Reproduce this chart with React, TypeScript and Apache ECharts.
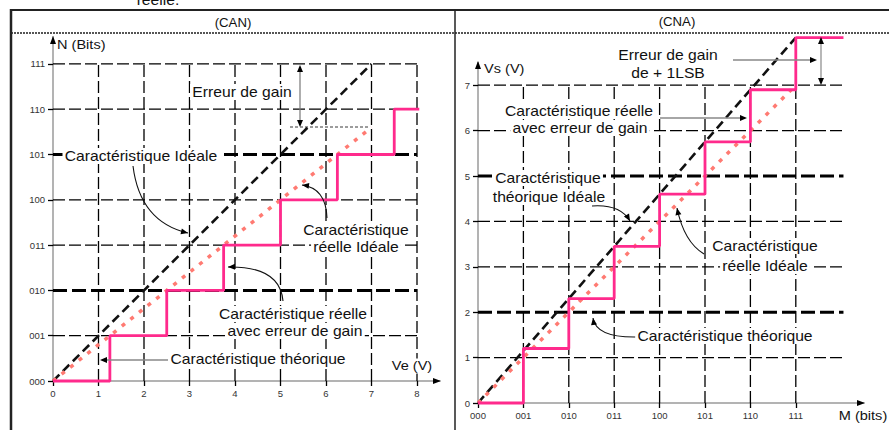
import React, { useEffect, useRef } from "react";
import * as echarts from "echarts";

// ---------- data ----------
const canCodes = ["000", "001", "010", "011", "100", "101", "110", "111"];
const canVeTicks = [0, 1, 2, 3, 4, 5, 6, 7, 8];
const canNTicks = [0, 1, 2, 3, 4, 5, 6, 7];
const canStepVe = [0, 1.25, 2.5, 3.75, 5, 6.25, 7.5, 8.05];
const canStepN = [0, 1, 2, 3, 4, 5, 6, 6];
const canIdealVe = [0, 7];
const canIdealN = [0, 7];
const canGainVe = [0, 7];
const canGainN = [0, 5.6];
const canGridLevels = [1, 2, 3, 4, 5, 6, 7];
const canGridVe = [1, 2, 3, 4, 5, 6, 7, 8];
const canHeavy = [2, 5];

const cnaCodes = ["000", "001", "010", "011", "100", "101", "110", "111"];
const cnaMTicks = [0, 1, 2, 3, 4, 5, 6, 7];
const cnaVsTicks = [0, 1, 2, 3, 4, 5, 6, 7];
const cnaStepM = [0, 1, 2, 3, 4, 5, 6, 7, 8.05];
const cnaStepVs = [0, 1.2, 2.3, 3.45, 4.6, 5.75, 6.9, 8.05, 8.05];
const cnaIdealM = [0, 7];
const cnaIdealVs = [0, 8.05];
const cnaRealM = [0, 6.9];
const cnaRealVs = [0, 6.9];
const cnaGridLevels = [1, 2, 3, 4, 5, 6, 7];
const cnaGridM = [1, 2, 3, 4, 5, 6, 7];
const cnaHeavy = [2, 5];
const cnaGridEnd = 8.05;

const PINK = "#ff2a8c";
const SALMON = "#ff7a72";
const FONT = "Liberation Sans, Arial, sans-serif";

const zip = (a: number[], b: number[]) => a.map((v, i) => [v, b[i]]);

function gridSeries(gi: number, levels: number[], heavy: number[], xs: number[], xEnd: number, yEnd: number) {
  const s: any[] = [];
  levels.forEach((l) => {
    const h = heavy.includes(l);
    s.push({
      type: "line", xAxisIndex: gi, yAxisIndex: gi, silent: true, symbol: "none", clip: false, z: 1,
      data: [[0, l], [xEnd, l]],
      lineStyle: { color: "#000", width: h ? 3 : 1.3, type: h ? [14, 5] : [12, 4] },
    });
  });
  xs.forEach((x) => {
    s.push({
      type: "line", xAxisIndex: gi, yAxisIndex: gi, silent: true, symbol: "none", clip: false, z: 1,
      data: [[x, 0], [x, yEnd]],
      lineStyle: { color: "#000", width: 1.3, type: [12, 4] },
    });
  });
  return s;
}

// ---------- annotation helpers ----------
function head(tx: number, ty: number, fx: number, fy: number, size = 7, w = 3, color = "#000") {
  const dx = tx - fx, dy = ty - fy;
  const d = Math.hypot(dx, dy) || 1;
  const ux = dx / d, uy = dy / d;
  const bx = tx - ux * size, by = ty - uy * size;
  return {
    type: "polygon", z: 101, silent: true,
    shape: { points: [[tx, ty], [bx - uy * w, by + ux * w], [bx + uy * w, by - ux * w]] },
    style: { fill: color },
  };
}
function line(x1: number, y1: number, x2: number, y2: number, color = "#000", width = 1, dash?: number[]) {
  return {
    type: "line", z: 100, silent: true,
    shape: { x1, y1, x2, y2 },
    style: { stroke: color, lineWidth: width, lineDash: dash },
  };
}
function curve(x1: number, y1: number, cx: number, cy: number, x2: number, y2: number) {
  return [
    {
      type: "bezierCurve", z: 100, silent: true,
      shape: { x1, y1, x2, y2, cpx1: cx, cpy1: cy },
      style: { stroke: "#111", lineWidth: 1.1, fill: "none" },
    },
    head(x2, y2, cx, cy),
  ];
}
function label(text: string, x: number, y: number, opts: any = {}) {
  return {
    type: "text", z: 102, silent: true, x, y,
    scaleX: opts.scaleX ?? 1.12,
    style: {
      text, fontSize: opts.fontSize ?? 14, fontFamily: FONT, fill: "#111",
      align: opts.align ?? "center", verticalAlign: "middle",
      backgroundColor: opts.bg === false ? undefined : "#fff",
      padding: opts.bg === false ? 0 : [1, 2],
    },
  };
}

export default function App() {
  const ref = useRef<HTMLDivElement>(null);
  useEffect(() => {
    if (!ref.current) return;
    const chart = echarts.init(ref.current, null, { renderer: "svg" });

    const axisCommon = {
      type: "value",
      splitLine: { show: false },
      axisLine: { show: true, lineStyle: { color: "#9a9a9a", width: 1.5 } },
      axisTick: { show: true, length: 5, lineStyle: { color: "#000", width: 1.3 } },
    };
    const labelStyle = { fontSize: 9.5, color: "#333", fontFamily: FONT };

    const graphics: any[] = [
      // frame
      line(11, 10, 889, 10, "#222", 2),
      line(11, 33, 889, 33, "#555", 2, [2, 1]),
      line(11, 9, 11, 430, "#222", 2.5),
      line(455, 9, 455, 430, "#222", 1.5),
      label("réelle.", 158, 0, { bg: false }),
      label("(CAN)", 233, 23, { bg: false, fontSize: 12, scaleX: 1.1 }),
      label("(CNA)", 677, 22, { bg: false, fontSize: 12, scaleX: 1.1 }),
      // axis arrowheads
      head(53, 36, 53, 60, 8, 3),
      head(441, 381, 420, 381, 8, 3),
      head(478, 61, 478, 90, 8, 3),
      head(865, 403, 840, 403, 8, 3),
      // CAN annotations
      label("N (Bits)", 57, 45, { align: "left", bg: false, fontSize: 13 }),
      label("Ve (V)", 412, 366, { fontSize: 13 }),
      label("Caractéristique Idéale", 141, 156),
      ...curve(133, 166, 140, 222, 188, 233),
      label("Erreur de gain", 242, 92),
      line(300, 70, 300, 122, "#777", 1.2),
      head(300, 65, 300, 80, 7, 3),
      head(300, 127, 300, 112, 7, 3),
      line(290, 127, 370, 127, "#222", 0.9, [3, 2]),
      label("Caractéristique", 356, 230),
      label("réelle Idéale", 356, 247),
      ...curve(327, 218, 326, 188, 302, 185),
      label("Caractéristique réelle", 293, 314),
      label("avec erreur de gain", 295, 331),
      ...curve(283, 301, 280, 266, 228, 267),
      label("Caractéristique théorique", 258, 359),
      line(168, 360, 106, 360, "#888", 1.5),
      head(100, 360, 115, 360, 7, 3),
      // CNA annotations
      label("Vs (V)", 484, 69, { align: "left", bg: false, fontSize: 13 }),
      label("M (bits)", 863, 416, { fontSize: 13, bg: false }),
      label("Erreur de gain", 668, 55),
      label("de + 1LSB", 668, 73),
      line(733, 60, 810, 60, "#888", 1.5),
      head(817, 60, 800, 60, 7, 3),
      line(821, 43, 821, 80, "#888", 1.2),
      head(821, 37, 821, 50, 7, 3),
      head(821, 85, 821, 72, 7, 3),
      label("Caractéristique réelle", 579, 111),
      label("avec erreur de gain", 580, 128),
      line(660, 118, 740, 118, "#888", 1.5),
      head(747, 118, 730, 118, 7, 3),
      label("Caractéristique", 548, 178),
      label("théorique Idéale", 549, 197),
      ...curve(592, 206, 620, 204, 630, 221),
      label("Caractéristique", 765, 246),
      label("réelle Idéale", 765, 266),
      ...curve(704, 254, 684, 242, 677, 208),
      label("Caractéristique théorique", 725, 336),
      ...curve(638, 337, 596, 338, 593, 318),
    ];

    const option: any = {
      animation: false,
      backgroundColor: "#fff",
      grid: [
        { left: 53, top: 381 - 7.6 * 45.3, width: 8.5 * 45.5, height: 7.6 * 45.3 },
        { left: 478, top: 403 - 7.5 * 45.4, width: 8.5 * 45.4, height: 7.5 * 45.4 },
      ],
      xAxis: [
        {
          ...axisCommon, gridIndex: 0, min: 0, max: 8.5,
          axisTick: { ...axisCommon.axisTick, customValues: canVeTicks },
          axisLabel: { ...labelStyle, margin: 7, customValues: canVeTicks, formatter: (v: number) => String(v) },
        },
        {
          ...axisCommon, gridIndex: 1, min: 0, max: 8.5,
          axisTick: { ...axisCommon.axisTick, customValues: cnaMTicks },
          axisLabel: { ...labelStyle, margin: 7, customValues: cnaMTicks, formatter: (v: number) => cnaCodes[Math.round(v)] },
        },
      ],
      yAxis: [
        {
          ...axisCommon, gridIndex: 0, min: 0, max: 7.6,
          axisTick: { ...axisCommon.axisTick, customValues: canNTicks },
          axisLabel: { ...labelStyle, margin: 8, customValues: canNTicks, formatter: (v: number) => canCodes[Math.round(v)] },
        },
        {
          ...axisCommon, gridIndex: 1, min: 0, max: 7.5,
          axisTick: { ...axisCommon.axisTick, customValues: cnaVsTicks },
          axisLabel: { ...labelStyle, margin: 8, customValues: cnaVsTicks, formatter: (v: number) => String(v) },
        },
      ],
      series: [
        ...gridSeries(0, canGridLevels, canHeavy, canGridVe, 8, 7),
        ...gridSeries(1, cnaGridLevels, cnaHeavy, cnaGridM, cnaGridEnd, 7),
        {
          type: "line", xAxisIndex: 0, yAxisIndex: 0, symbol: "none", z: 3, clip: false,
          data: zip(canIdealVe, canIdealN),
          lineStyle: { color: "#111", width: 2.6, type: [9, 5] },
        },
        {
          type: "line", xAxisIndex: 0, yAxisIndex: 0, symbol: "none", z: 4, clip: false,
          data: zip(canGainVe, canGainN),
          lineStyle: { color: SALMON, width: 3.5, type: [4, 7] },
        },
        {
          type: "line", xAxisIndex: 0, yAxisIndex: 0, symbol: "none", z: 5, clip: false, step: "end",
          data: zip(canStepVe, canStepN),
          lineStyle: { color: PINK, width: 2.8 },
        },
        {
          type: "line", xAxisIndex: 1, yAxisIndex: 1, symbol: "none", z: 3, clip: false,
          data: zip(cnaIdealM, cnaIdealVs),
          lineStyle: { color: "#111", width: 2.6, type: [9, 5] },
        },
        {
          type: "line", xAxisIndex: 1, yAxisIndex: 1, symbol: "none", z: 4, clip: false,
          data: zip(cnaRealM, cnaRealVs),
          lineStyle: { color: SALMON, width: 3.5, type: [4, 7] },
        },
        {
          type: "line", xAxisIndex: 1, yAxisIndex: 1, symbol: "none", z: 5, clip: false, step: "end",
          data: zip(cnaStepM, cnaStepVs),
          lineStyle: { color: PINK, width: 2.8 },
        },
      ],
      graphic: { elements: graphics },
    };
    chart.setOption(option);
    return () => chart.dispose();
  }, []);
  return (
    <div
      ref={ref}
      style={{ position: "fixed", left: 0, top: 0, width: 889, height: 430, background: "#fff" }}
    />
  );
}
